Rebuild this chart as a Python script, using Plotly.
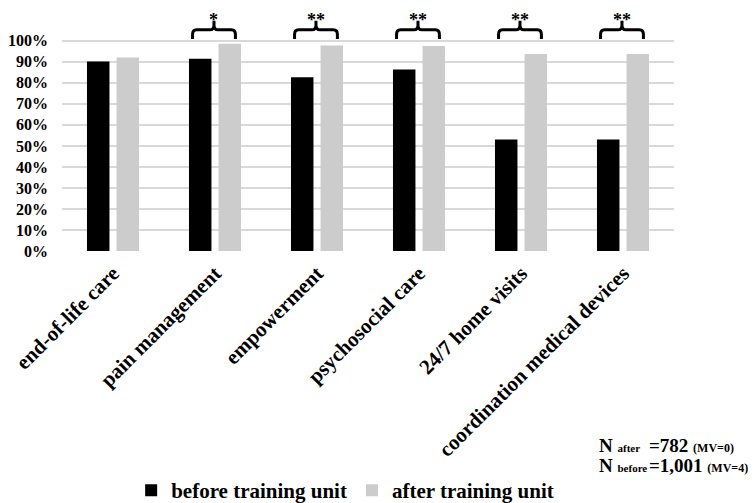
import plotly.graph_objects as go

categories = ['end-of-life care', 'pain management', 'empowerment',
              'psychosocial care', '24/7 home visits', 'coordination medical devices']
before = [0.902, 0.915, 0.826, 0.864, 0.531, 0.531]
after = [0.921, 0.986, 0.978, 0.975, 0.937, 0.937]
stars = ['', '*', '**', '**', '**', '**']
y_ticks = [0, 0.1, 0.2, 0.3, 0.4, 0.5, 0.6, 0.7, 0.8, 0.9, 1.0]

serif = 'Liberation Serif, Times New Roman, serif'
xpos = list(range(len(categories)))
y_top = 1.156

fig = go.Figure()
fig.add_trace(go.Bar(x=xpos, y=before, name='before training unit',
                     marker=dict(color='#000000', line=dict(width=0))))
fig.add_trace(go.Bar(x=xpos, y=after, name='after training unit',
                     marker=dict(color='#cccccc', line=dict(width=0))))


def brace(c, half=0.21, yb=1.009, yh=1.052, yp=1.095, rx=0.04, ry=0.022):
    x0, x1 = c - half, c + half
    return (f'M {x0},{yb} L {x0},{yh - ry} Q {x0},{yh} {x0 + rx},{yh} '
            f'L {c - rx},{yh} Q {c},{yh} {c},{yh + ry} L {c},{yp} '
            f'M {c},{yh + ry} Q {c},{yh} {c + rx},{yh} '
            f'L {x1 - rx},{yh} Q {x1},{yh} {x1},{yh - ry} L {x1},{yb}')


for i, s in enumerate(stars):
    if not s:
        continue
    fig.add_shape(type='path', xref='x', yref='y', path=brace(i - 0.01),
                  line=dict(color='black', width=3))
    fig.add_annotation(x=i - 0.01, y=y_top, xref='x', yref='y', text=s, showarrow=False,
                       yanchor='top', font=dict(size=18, family=serif, weight='bold'))

# sample size notes (page has an 8px body margin, so positions are shifted by 8)
notes = [('N <span style="font-size:11px">after</span>', '=782 <span style="font-size:12px">(MV=0)</span>', 439),
         ('N <span style="font-size:11px">before</span>', '=1,001 <span style="font-size:12px">(MV=4)</span>', 459)]
for left, right, py in notes:
    yy = (244 - py) / 244
    fig.add_annotation(x=(589 - 54) / 612, y=yy, xref='paper', yref='paper', text=left,
                       showarrow=False, xanchor='left', yanchor='middle',
                       font=dict(size=19, family=serif, weight='bold'))
    fig.add_annotation(x=(639 - 54) / 612, y=yy, xref='paper', yref='paper', text=right,
                       showarrow=False, xanchor='left', yanchor='middle',
                       font=dict(size=19, family=serif, weight='bold'))

fig.update_layout(
    width=756, height=503,
    margin=dict(l=54, r=90, t=0, b=259),
    plot_bgcolor='white', paper_bgcolor='white',
    font=dict(family=serif, color='black', weight='bold'),
    barmode='group', bargap=0.42, bargroupgap=0.24,
    showlegend=True,
    legend=dict(orientation='h', x=0.113, y=-0.984, xanchor='left', yanchor='middle',
                font=dict(size=21, family=serif, weight='bold'), itemclick=False),
    xaxis=dict(range=[-0.5, 5.5], tickvals=xpos, ticktext=categories, tickangle=-45,
               tickfont=dict(size=21, family=serif, weight='bold'), showgrid=False,
               zeroline=False, showline=False, ticks='', automargin=False,
               ticklabelstandoff=5),
    yaxis=dict(range=[0, y_top], tickvals=y_ticks, tickformat='.0%',
               tickfont=dict(size=16, family=serif, weight='bold'),
               showgrid=True, gridcolor='#d9d9d9', gridwidth=1.5, zeroline=False,
               showline=False, ticks='', ticklabelstandoff=13, automargin=False),
)

fig.write_html('out.html')
